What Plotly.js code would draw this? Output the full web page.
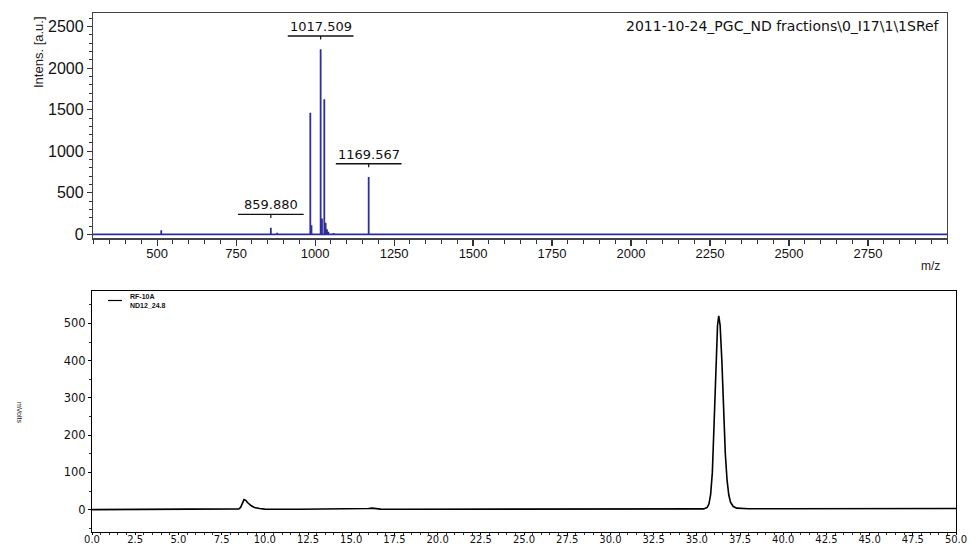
<!DOCTYPE html>
<html>
<head>
<meta charset="utf-8">
<script src="https://cdn.plot.ly/plotly-3.0.1.min.js"></script>
<style>html,body{margin:0;padding:0;background:#fff;}#chart{width:970px;height:546px;}</style>
</head>
<body>
<div id="chart"></div>
<script>
// ---- Mass spectrum (top) ----
const mzPeaks = [513, 859.88, 880, 984.8, 988.5, 1017.509, 1021.7, 1029.1, 1033.3, 1037.5, 1041.8, 1058.6, 1169.567];
const intensities = [50, 80, 20, 1465, 110, 2228, 190, 1626, 140, 60, 30, 15, 690];
const mzRange = [297, 3000];
const mzTickVals = [500, 750, 1000, 1250, 1500, 1750, 2000, 2250, 2500, 2750];
const labelMz = [859.880, 1017.509, 1169.567];
const labelInt = [80, 2228, 690];
const spectrumName = "2011-10-24_PGC_ND fractions\\0_I17\\1\\1SRef";

// ---- Chromatogram (bottom) ----
const rtMin = [0, 2, 4, 5, 6, 7, 8, 8.5, 8.6, 8.7, 8.8, 8.9, 9.0, 9.2, 9.4, 9.7, 10.0, 12, 14, 15.8, 16.0, 16.2, 16.4, 16.7, 18, 20, 22, 24, 26, 28, 30, 32, 34, 35.0, 35.4, 35.6, 35.7, 35.8, 35.9, 36.0, 36.1, 36.2, 36.27, 36.35, 36.45, 36.55, 36.65, 36.75, 36.85, 36.95, 37.1, 37.3, 37.6, 38, 40, 42, 44, 46, 48, 50];
const mVolts = [0, 0, 0, 0.5, 0.5, 1, 1, 2, 6, 18, 27, 25, 19, 11, 6, 3, 1.5, 1, 1, 1, 3, 4, 3, 1.5, 1, 1, 1, 1.5, 1.5, 1.5, 1.5, 1.5, 1.5, 1.5, 2, 6, 15, 40, 100, 230, 380, 495, 520, 495, 400, 260, 150, 80, 40, 20, 9, 4, 3, 2.5, 2.5, 2.5, 2.5, 3, 3, 3];
const legendLines = ["RF-10A", "ND12_24.8"];

// build stick spectrum
const sx = [mzRange[0]], sy = [0];
mzPeaks.forEach((m, i) => { sx.push(m, m, m); sy.push(0, intensities[i], 0); });
sx.push(mzRange[1]); sy.push(0);

const blue = "#2e2e9a";
const traces = [
  {x: sx, y: sy, type: "scatter", mode: "lines", line: {color: blue, width: 1.8}, xaxis: "x", yaxis: "y", hoverinfo: "x+y"},
  {x: rtMin, y: mVolts, type: "scatter", mode: "lines", line: {color: "#000", width: 1.6}, xaxis: "x2", yaxis: "y2"}
];

const shapes = [];
const annotations = [];
labelMz.forEach((m, i) => {
  const h = labelInt[i];
  shapes.push({type: "line", xref: "x", yref: "y", x0: m, x1: m, y0: h + 117, y1: h + 160, line: {color: "#111", width: 1.2}});
  shapes.push({type: "line", xref: "x", yref: "y", x0: m - 104, x1: m + 104, y0: h + 160, y1: h + 160, line: {color: "#111", width: 1.4}});
  annotations.push({xref: "x", yref: "y", x: m, y: h + 160, text: m.toFixed(3), showarrow: false, yanchor: "bottom", yshift: 0,
    font: {family: "DejaVu Sans", size: 13, color: "#111"}});
});
annotations.push({xref: "paper", yref: "paper", x: 942/970, y: 1 - 26/546, xanchor: "right", yanchor: "middle", text: spectrumName, showarrow: false,
  font: {family: "DejaVu Sans", size: 14, color: "#111"}});
annotations.push({xref: "paper", yref: "paper", x: 38/970, y: 1 - 52/546, xanchor: "center", yanchor: "middle", textangle: -90, text: "Intens. [a.u.]", showarrow: false,
  font: {family: "Liberation Sans", size: 13, color: "#222"}});
annotations.push({xref: "paper", yref: "paper", x: 930/970, y: 1 - 266/546, xanchor: "center", yanchor: "middle", text: "m/z", showarrow: false,
  font: {family: "Liberation Sans", size: 12, color: "#222"}});
annotations.push({xref: "paper", yref: "paper", x: 20/970, y: 1 - 413/546, xanchor: "center", yanchor: "middle", textangle: 90, text: "mVolts", showarrow: false,
  font: {family: "Liberation Sans", size: 7, color: "#222"}});
// legend for chromatogram
shapes.push({type: "line", xref: "paper", yref: "paper", x0: 108/970, x1: 122/970, y0: 1 - 300.5/546, y1: 1 - 300.5/546, line: {color: "#000", width: 1.2}});
annotations.push({xref: "paper", yref: "paper", x: 128/970, y: 1 - 300.5/546, xanchor: "left", yanchor: "middle", align: "left",
  text: legendLines.map(t => "<b>" + t + "</b>").join("<br>"), showarrow: false,
  font: {family: "Liberation Sans", size: 7, color: "#111"}});

const layout = {
  width: 970, height: 546,
  margin: {l: 0, r: 0, t: 0, b: 0},
  paper_bgcolor: "#fff", plot_bgcolor: "#fff",
  showlegend: false,
  xaxis: {domain: [93/970, 947/970], range: mzRange, anchor: "y", showgrid: false, zeroline: false,
    showline: true, linecolor: "#444", linewidth: 1.2, mirror: true,
    tickmode: "array", tickvals: mzTickVals, ticks: "outside", ticklen: 6, tickcolor: "#333", tickwidth: 1.2,
    minor: {dtick: 50, tick0: 0, ticks: "outside", ticklen: 4, tickcolor: "#333", tickwidth: 1},
    ticklabelstandoff: -3,
    tickfont: {family: "Liberation Sans", size: 13, color: "#111"}, automargin: false},
  yaxis: {domain: [1 - 238.3/546, 1 - 12.7/546], range: [-48, 2668], anchor: "x", showgrid: false, zeroline: false,
    showline: true, linecolor: "#444", linewidth: 1.2, mirror: true,
    tickmode: "linear", tick0: 0, dtick: 500, ticks: "outside", ticklen: 5, tickcolor: "#333", tickwidth: 1.2,
    minor: {dtick: 100, tick0: 0, ticks: "outside", ticklen: 3, tickcolor: "#333", tickwidth: 1},
    tickfont: {family: "Liberation Sans", size: 16, color: "#111"}, automargin: false},
  xaxis2: {domain: [92/970, 956/970], range: [0, 50], anchor: "y2", showgrid: false, zeroline: false,
    showline: true, linecolor: "#000", linewidth: 1, mirror: true,
    tickmode: "linear", tick0: 0, dtick: 2.5, tickformat: ".1f", ticks: "outside", ticklen: 2, tickcolor: "#000",
    minor: {dtick: 0.5, tick0: 0, ticks: "outside", ticklen: 1.5, tickcolor: "#333"},
    ticklabelstandoff: -4,
    tickfont: {family: "DejaVu Sans", size: 10, color: "#111"}, automargin: false},
  yaxis2: {domain: [1 - 532/546, 1 - 291/546], range: [-60, 587], anchor: "x2", showgrid: false, zeroline: false,
    showline: true, linecolor: "#000", linewidth: 1, mirror: true,
    tickmode: "linear", tick0: 0, dtick: 100, ticks: "outside", ticklen: 3, tickcolor: "#000",
    minor: {dtick: 50, tick0: 0, ticks: "outside", ticklen: 2, tickcolor: "#333"},
    tickfont: {family: "DejaVu Sans", size: 11.5, color: "#111"}, automargin: false},
  shapes: shapes,
  annotations: annotations
};

Plotly.newPlot("chart", traces, layout, {displayModeBar: false, staticPlot: true});
</script>
</body>
</html>
